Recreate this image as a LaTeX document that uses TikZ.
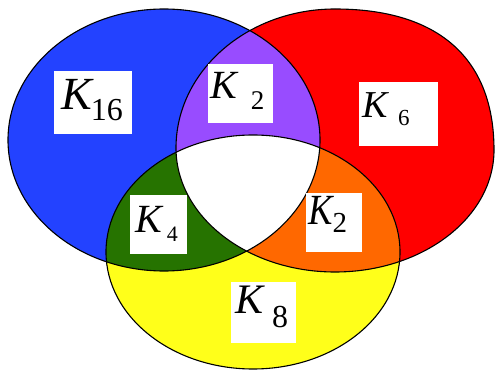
\documentclass[tikz,border=0pt]{standalone}
\usepackage{fontspec}
\setmainfont{Liberation Serif}
\definecolor{cblue}{RGB}{35,66,255}
\definecolor{cred}{RGB}{255,0,0}
\definecolor{cyel}{RGB}{255,255,26}
\definecolor{cpur}{RGB}{152,76,255}
\definecolor{cgrn}{RGB}{38,115,0}
\definecolor{corg}{RGB}{255,104,0}
\newcommand{\fsz}[1]{\fontsize{#1}{#1}\selectfont}
% \klab{K size}{K xscale}{gap}{drop}{digit size}{digits}
\newcommand{\klab}[6]{{\fsz{#1}\itshape\scalebox{#2}[1]{K}}\hspace{#3}\raisebox{-#4}{\fsz{#5}\upshape #6}}
\def\bluepath{(164,140) ellipse [x radius=156pt, y radius=131pt]}
\def\yelpath{(253,252) ellipse [x radius=147pt, y radius=117pt]}
\def\redpath{(176,148) .. controls (176,71.2) and (247.2,9) .. (335,9)
  .. controls (438,9) and (494,58) .. (494,150)
  .. controls (494,217.4) and (422.8,272) .. (335,272)
  .. controls (247.2,272) and (176,216.5) .. (176,148) -- cycle}
\tikzset{
  lbl/.style={fill=white, inner sep=0pt, draw=none},
  kt/.style={inner sep=0pt, anchor=base west},
  outline/.style={draw=black, line width=1.1pt}
}
\begin{document}
\begin{tikzpicture}[x=1pt,y=-1pt]
\useasboundingbox (0,0) rectangle (495,371);
% base fills
\fill[cblue] \bluepath;
\fill[cred] \redpath;
\fill[cyel] \yelpath;
% pairwise intersections
\begin{scope}\clip \bluepath; \fill[cpur] \redpath; \end{scope}
\begin{scope}\clip \bluepath; \fill[cgrn] \yelpath; \end{scope}
\begin{scope}\clip \redpath; \fill[corg] \yelpath; \end{scope}
\begin{scope}\clip \bluepath; \clip \redpath; \fill[white] \yelpath; \end{scope}
% outlines
\draw[outline] \bluepath;
\draw[outline] \redpath;
\draw[outline] \yelpath;
% label boxes
\node[lbl, minimum width=78pt, minimum height=63pt] (b16) at (93,102.5) {};
\node[lbl, minimum width=65pt, minimum height=59pt] (b2a) at (240.5,93.5) {};
\node[lbl, minimum width=79pt, minimum height=64pt] (b6) at (398.5,114) {};
\node[lbl, minimum width=57pt, minimum height=59pt] (b4) at (158.5,224.5) {};
\node[lbl, minimum width=56pt, minimum height=59pt] (b2b) at (334,222.5) {};
\node[lbl, minimum width=65pt, minimum height=61pt] (b8) at (263.5,312.5) {};
% texts
\node[kt] (t16) at (61,110) {\klab{46}{1}{-1pt}{11pt}{32}{16}};
\node[kt] (t2a) at (210,99) {\klab{40}{1}{14pt}{11pt}{27}{2}};
\node[kt] (t6) at (362,118) {\klab{38}{1}{10.5pt}{8pt}{23}{6}};
\node[kt] (t4) at (135,233) {\klab{40}{1}{5pt}{9pt}{22}{4}};
\node[kt] (t2b) at (308,225) {\klab{43}{0.85}{0pt}{8pt}{29}{2}};
\node[kt] (t8) at (235,313) {\klab{42}{1}{9pt}{14pt}{32}{8}};
\end{tikzpicture}
\end{document}
